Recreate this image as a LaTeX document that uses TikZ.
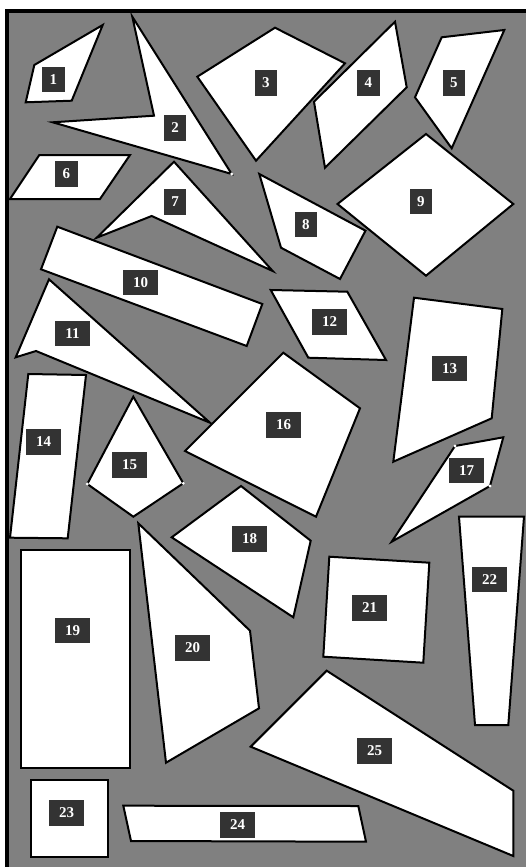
\documentclass[tikz,border=0pt]{standalone}
\usepackage{fontspec}
\setmainfont{Liberation Serif}
\definecolor{bggray}{HTML}{808080}
\definecolor{labbg}{HTML}{333333}
\begin{document}
\begin{tikzpicture}[x=1pt,y=-1pt,
  piece/.style={fill=white,draw=black,line width=2pt},
  frame/.style={fill=bggray,draw=black,line width=4pt},
  blob/.style={fill=white,draw=none},
  lab/.style={fill=labbg,text=white,font=\bfseries\fontsize{15}{15}\selectfont,inner sep=0pt,minimum height=25.5pt,minimum width=#1},
  lab/.default=22.5pt]
\useasboundingbox (0,0) rectangle (526,867);
\fill[white] (0,0) rectangle (526,867);
\begin{scope}
  \clip (0,0) rectangle (526,867);
  \draw[frame] (7,11.5) rectangle (528,871);
\end{scope}
% pieces
\draw[piece] (102.7,25) -- (34.3,65) -- (25.7,102.3) -- (71.7,100.7) -- cycle;
\draw[piece] (132.3,16.7) -- (154,115.7) -- (52.7,122.3) -- (231.7,174) -- cycle;
\draw[piece] (275,27.7) -- (345,63.3) -- (256,160.7) -- (197.3,76.7) -- cycle;
\draw[piece] (395,21.7) -- (406.7,87.3) -- (325,167.7) -- (314,101.7) -- cycle;
\draw[piece] (441.7,37.3) -- (504.3,30) -- (451.7,148.3) -- (415,97.3) -- cycle;
\draw[piece] (39.3,155) -- (130,155) -- (100,199) -- (10,199) -- cycle;
\draw[piece] (174,161.7) -- (272.7,271) -- (151.7,216) -- (96.7,237.7) -- cycle;
\draw[piece] (259.3,174) -- (365.5,230.7) -- (340,279) -- (281,247.7) -- cycle;
\draw[piece] (426,134) -- (513.3,204) -- (426,275.7) -- (337.5,204) -- cycle;
\draw[piece] (57.3,226.7) -- (262.3,304) -- (246.7,346) -- (41,269.3) -- cycle;
\draw[piece] (49,279.3) -- (210,422.7) -- (36,351) -- (15.7,357.3) -- cycle;
\draw[piece] (270.7,290) -- (347.3,291.7) -- (386,360) -- (308.3,357.7) -- cycle;
\draw[piece] (414,297.7) -- (502.3,309) -- (491.7,418.3) -- (393.3,461.7) -- cycle;
\draw[piece] (28.3,374) -- (86,375) -- (67.7,538.3) -- (10,537.7) -- cycle;
\draw[piece] (133.3,396.7) -- (183.3,483.3) -- (133.3,516.7) -- (87.3,484) -- cycle;
\draw[piece] (283.3,352.7) -- (360,408.3) -- (316,516.7) -- (185,451) -- cycle;
\draw[piece] (455,446) -- (503.3,437.3) -- (490,486) -- (391.7,541.7) -- cycle;
\draw[piece] (241,486) -- (310.7,540.7) -- (293.3,617.3) -- (171.7,537.3) -- cycle;
\draw[piece] (20.7,550) rectangle (130,768.3);
\draw[piece] (138.3,523.3) -- (250,630.7) -- (259,708.3) -- (166,762.7) -- cycle;
\draw[piece] (329.3,556.7) -- (429.3,562.7) -- (423.3,662.7) -- (323.3,656.7) -- cycle;
\draw[piece] (459,516.7) -- (524,516.7) -- (508.3,725) -- (475,725) -- cycle;
\draw[piece] (31,780) rectangle (108.3,856.7);
\draw[piece] (123.3,805.7) -- (358.3,806) -- (366,841.7) -- (131,841) -- cycle;
\draw[piece] (326.7,670.7) -- (513.3,790.7) -- (513.3,856) -- (250.7,746.7) -- cycle;
% small white marks at some corners
\fill[blob] (231.7,174) circle (1.6);
\fill[blob] (87.3,484) circle (1.6);
\fill[blob] (183.3,483.3) circle (1.6);
\fill[blob] (455,446) circle (1.6);
\fill[blob] (490,486) circle (1.6);
% labels
\node[lab] (l1) at (53.3,79.3) {1};
\node[lab] (l2) at (175,128) {2};
\node[lab] (l3) at (265.8,82.8) {3};
\node[lab] (l4) at (368.3,82.8) {4};
\node[lab] (l5) at (453.8,82.8) {5};
\node[lab] (l6) at (66.3,173.8) {6};
\node[lab] (l7) at (175,202) {7};
\node[lab] (l8) at (305.8,224.7) {8};
\node[lab] (l9) at (420.8,201.7) {9};
\node[lab=35pt] (l10) at (140.5,282.5) {10};
\node[lab=35pt] (l11) at (72.5,333.5) {11};
\node[lab=35pt] (l12) at (329.5,322) {12};
\node[lab=35pt] (l13) at (449.5,368.5) {13};
\node[lab=35pt] (l14) at (43.5,441.8) {14};
\node[lab=35pt] (l15) at (129.5,464.8) {15};
\node[lab=35pt] (l16) at (283.5,425) {16};
\node[lab=35pt] (l17) at (466.5,470.7) {17};
\node[lab=35pt] (l18) at (249.5,538.8) {18};
\node[lab=35pt] (l19) at (72.5,630.7) {19};
\node[lab=35pt] (l20) at (192.5,647.8) {20};
\node[lab=35pt] (l21) at (369.5,607.8) {21};
\node[lab=35pt] (l22) at (489.5,579.5) {22};
\node[lab=35pt] (l23) at (66.5,812.8) {23};
\node[lab=35pt] (l24) at (237.5,825) {24};
\node[lab=35pt] (l25) at (374.5,751) {25};
\end{tikzpicture}
\end{document}
